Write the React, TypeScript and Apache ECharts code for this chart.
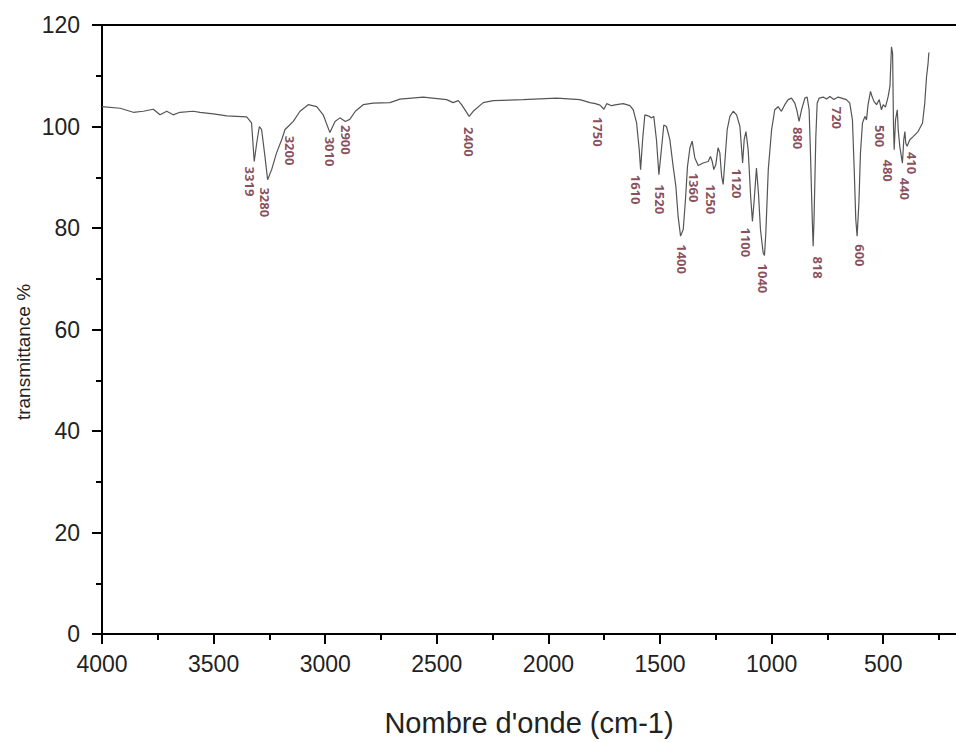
import React, { useEffect, useRef } from "react";
import * as echarts from "echarts";

// Spectrum (wavenumber cm-1 -> transmittance %)
const waveNumbers = [
  4000, 3919, 3860, 3815, 3770, 3740, 3710, 3681, 3651, 3591, 3561, 3501, 3441, 3352, 3330, 3318, 3307, 3295, 3285,
  3270, 3258, 3240, 3218, 3195, 3180, 3166, 3143, 3113, 3076, 3038, 3009, 2979, 2956, 2934, 2910, 2890, 2865, 2830,
  2785, 2710, 2665, 2561, 2456, 2427, 2404, 2389, 2355, 2337, 2292, 2247, 2113, 1963, 1859, 1814, 1790, 1769, 1751,
  1739, 1717, 1695, 1665, 1635, 1620, 1605, 1593, 1587, 1578, 1568, 1553, 1538, 1528, 1516, 1505, 1494, 1483, 1471,
  1456, 1441, 1429, 1419, 1408, 1396, 1386, 1377, 1366, 1356, 1344, 1329, 1307, 1284, 1274, 1266, 1259, 1250, 1240,
  1232, 1224, 1217, 1210, 1199, 1187, 1172, 1157, 1142, 1130, 1123, 1115, 1105, 1094, 1086, 1078, 1068, 1059, 1050,
  1038, 1032, 1026, 1015, 1000, 986, 971, 956, 941, 926, 911, 896, 886, 877, 866, 851, 841, 832, 826, 818, 814, 810,
  802, 796, 787, 769, 754, 739, 721, 702, 687, 665, 650, 638, 630, 623, 617, 609, 602, 593, 582, 575, 568, 557, 550,
  541, 530, 518, 508, 500, 490, 478, 470, 463, 458, 454, 451, 445, 437, 433, 426, 414, 408, 403, 399, 393, 381, 366,
  344, 324, 314, 306, 299, 296, 294,
];
const transmittance = [
  103.9, 103.6, 102.8, 103.0, 103.4, 102.3, 103.0, 102.3, 102.8, 103.0, 102.8, 102.5, 102.1, 101.9, 100.7, 93.1, 96.7,
  100.0, 99.4, 94.1, 89.5, 91.5, 94.8, 97.4, 99.4, 100.0, 101.0, 103.0, 104.3, 103.9, 102.3, 98.8, 101.0, 101.7, 101.0,
  101.4, 103.0, 104.3, 104.6, 104.7, 105.4, 105.8, 105.3, 104.7, 105.1, 104.3, 102.0, 103.0, 104.7, 105.1, 105.3,
  105.6, 105.3, 104.7, 104.5, 104.2, 103.4, 104.5, 104.1, 104.3, 104.5, 104.1, 103.3, 100.7, 95.4, 91.5, 97.4, 102.3,
  102.1, 101.7, 102.0, 97.4, 90.5, 95.4, 100.3, 100.0, 97.4, 92.1, 88.2, 82.3, 78.4, 79.7, 85.6, 92.1, 95.8, 97.1,
  93.8, 92.3, 92.8, 93.1, 94.1, 93.1, 91.5, 92.5, 95.8, 94.8, 90.2, 88.6, 92.8, 99.4, 102.0, 103.0, 102.3, 100.0, 92.8,
  97.4, 99.0, 95.4, 86.2, 81.3, 85.6, 91.8, 86.9, 79.7, 75.1, 74.6, 79.0, 91.5, 99.4, 103.3, 103.9, 103.0, 104.3,
  105.3, 105.6, 104.6, 103.0, 101.0, 103.3, 105.6, 105.8, 103.3, 94.8, 81.7, 76.4, 81.7, 98.0, 104.6, 105.6, 105.8,
  105.4, 105.9, 105.3, 105.8, 105.6, 105.3, 104.6, 101.3, 91.5, 81.7, 78.4, 85.0, 94.8, 100.7, 102.0, 101.3, 104.3,
  106.9, 105.9, 104.9, 104.3, 105.3, 103.3, 104.3, 103.8, 105.9, 107.9, 115.7, 114.4, 100.0, 95.4, 101.3, 103.3, 99.4,
  96.1, 92.8, 97.4, 99.0, 96.7, 96.1, 97.4, 98.0, 99.0, 100.7, 104.6, 109.8, 112.5, 114.4, 114.6,
];

// Peak annotations: text, and anchor (top of label) in data coordinates
const peakLabels = [
  "3319", "3280", "3200", "3010", "2900", "2400", "1750", "1610", "1520", "1400", "1360", "1250", "1120", "1100",
  "1040", "880", "818", "720", "600", "500", "480", "440", "410",
];
const peakLabelX = [
  3337, 3270, 3158, 2979, 2907, 2356, 1778, 1608, 1501, 1402, 1349, 1273, 1156, 1116, 1040, 883, 793, 708, 605, 515,
  480, 403, 372,
];
const peakLabelY = [
  92.1, 88.0, 98.2, 98.0, 100.3, 99.9, 101.9, 90.5, 88.6, 76.8, 90.9, 88.6, 91.7, 80.1, 73.0, 99.9, 74.4, 103.9, 76.8,
  100.3, 93.5, 89.9, 95.0,
];

const xMajorTicks = [4000, 3500, 3000, 2500, 2000, 1500, 1000, 500];
const xMinorTicks = [3750, 3250, 2750, 2250, 1750, 1250, 750, 250];
const X_MIN = 174;
const X_MAX = 4000;

export default function App() {
  const ref = useRef<HTMLDivElement>(null);
  useEffect(() => {
    document.body.style.margin = "0";
    if (!ref.current) return;
    const chart = echarts.init(ref.current, undefined, { renderer: "svg" });
    const font = "Liberation Sans, Arial, sans-serif";
    const axisLineStyle = { color: "#000", width: 2 };
    const option: any = {
      animation: false,
      grid: { left: 102, right: 0, top: 25, bottom: 106 },
      xAxis: [
        {
          type: "value",
          inverse: true,
          min: X_MIN,
          max: X_MAX,
          position: "bottom",
          axisLine: { show: true, lineStyle: axisLineStyle },
          axisTick: { show: true, customValues: xMajorTicks, length: 10, lineStyle: axisLineStyle },
          axisLabel: {
            show: true,
            customValues: xMajorTicks,
            formatter: (v: number) => String(v),
            fontSize: 23,
            color: "#222",
            margin: 18,
            fontFamily: font,
          },
          splitLine: { show: false },
          name: "Nombre d'onde (cm-1)",
          nameLocation: "middle",
          nameGap: 74,
          nameTextStyle: { fontSize: 29, color: "#222", fontFamily: font },
        },
        {
          type: "value",
          inverse: true,
          min: X_MIN,
          max: X_MAX,
          position: "bottom",
          axisLine: { show: false },
          axisTick: { show: true, customValues: xMinorTicks, length: 6, lineStyle: axisLineStyle },
          axisLabel: { show: false },
          splitLine: { show: false },
        },
        {
          type: "value",
          inverse: true,
          min: X_MIN,
          max: X_MAX,
          position: "top",
          axisLine: { show: true, lineStyle: axisLineStyle },
          axisTick: { show: false },
          axisLabel: { show: false },
          splitLine: { show: false },
        },
      ],
      yAxis: {
        type: "value",
        min: 0,
        max: 120,
        interval: 20,
        axisLine: { show: true, lineStyle: axisLineStyle },
        axisTick: { show: true, length: 10, lineStyle: axisLineStyle },
        minorTick: { show: true, splitNumber: 2, length: 6, lineStyle: axisLineStyle },
        axisLabel: { fontSize: 23, color: "#222", margin: 22, fontFamily: font },
        splitLine: { show: false },
        minorSplitLine: { show: false },
      },
      graphic: [
        {
          type: "text",
          x: 23.5,
          y: 352,
          rotation: Math.PI / 2,
          style: {
            text: "transmittance %",
            fontSize: 19,
            fontFamily: font,
            fill: "#222",
            align: "center",
            verticalAlign: "middle",
            textAlign: "center",
            textVerticalAlign: "middle",
          },
        },
      ],
      series: [
        {
          type: "line",
          xAxisIndex: 0,
          yAxisIndex: 0,
          data: waveNumbers.map((w, i) => [w, transmittance[i]]),
          showSymbol: false,
          symbol: "none",
          lineStyle: { color: "#555", width: 1.2 },
          silent: true,
        },
        {
          type: "scatter",
          xAxisIndex: 0,
          yAxisIndex: 0,
          symbolSize: 1,
          itemStyle: { color: "rgba(0,0,0,0)" },
          data: peakLabels.map((t, i) => ({ name: t, value: [peakLabelX[i], peakLabelY[i]] })),
          label: {
            show: true,
            formatter: "{b}",
            position: "inside",
            rotate: -90,
            align: "left",
            verticalAlign: "middle",
            color: "#6a1f33",
            fontSize: 13,
            fontWeight: "bold",
            fontFamily: "Open Sans, sans-serif",
          },
          labelLayout: { hideOverlap: false },
          silent: true,
        },
      ],
    };
    chart.setOption(option);
    return () => chart.dispose();
  }, []);
  return <div ref={ref} style={{ width: 956, height: 742 }} />;
}
